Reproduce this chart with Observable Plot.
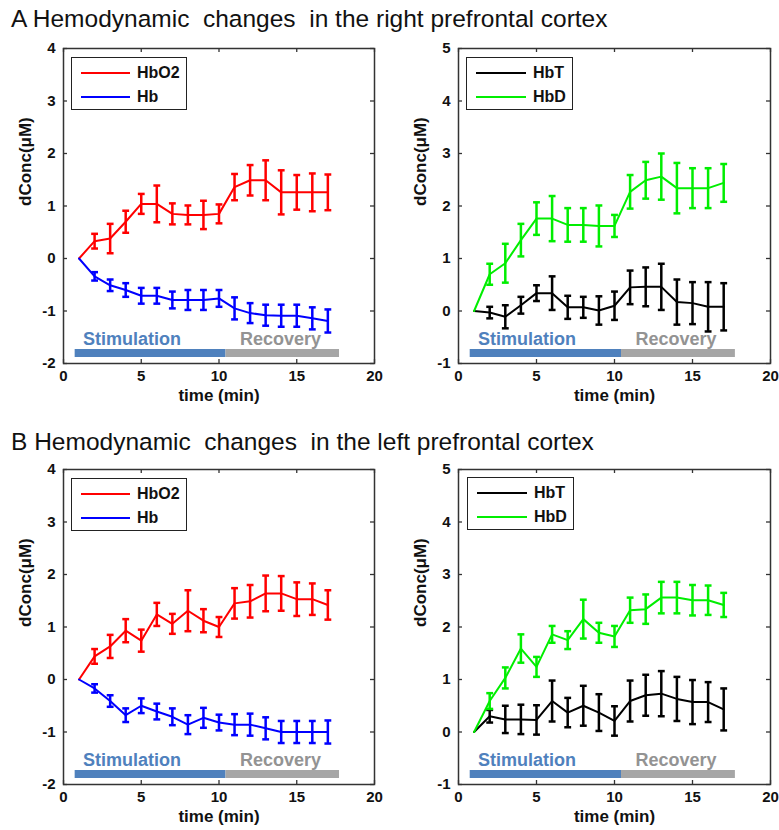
<!DOCTYPE html>
<html>
<head>
<meta charset="utf-8">
<script src="https://cdn.jsdelivr.net/npm/d3@7"></script>
<script src="https://cdn.jsdelivr.net/npm/@observablehq/plot@0.6"></script>
<style>
  body { margin: 0; background: #fff; }
  #root { position: relative; width: 779px; height: 830px; overflow: hidden; font-family: "Liberation Sans", Arial, sans-serif; color: #111; }
  .title { position: absolute; left: 11px; font-size: 24.5px; white-space: pre; line-height: 1; }
  .panel { position: absolute; }
  .legend { position: absolute; background: #fff; border: 1.5px solid #222; box-sizing: border-box; }
  .legend .sw { position: absolute; height: 2px; }
  .legend .lab { position: absolute; font-weight: bold; font-size: 16px; line-height: 1; }
</style>
</head>
<body>
<div id="root"></div>
<script>
// ---------- data ----------
const times = [1, 2, 3, 4, 5, 6, 7, 8, 9, 10, 11, 12, 13, 14, 15, 16, 17];
const xTicks = [0, 5, 10, 15, 20];
const yTicksLeft = [-2, -1, 0, 1, 2, 3, 4];
const yTicksRight = [-1, 0, 1, 2, 3, 4, 5];

// A: right prefrontal cortex
const rightHbO2    = [0, 0.33, 0.38, 0.70, 1.04, 1.04, 0.85, 0.83, 0.83, 0.85, 1.36, 1.49, 1.49, 1.26, 1.26, 1.26, 1.26];
const rightHbO2Err = [0, 0.14, 0.28, 0.21, 0.19, 0.35, 0.20, 0.18, 0.27, 0.18, 0.25, 0.29, 0.38, 0.42, 0.33, 0.36, 0.34];
const rightHb      = [0, -0.34, -0.51, -0.60, -0.71, -0.71, -0.79, -0.79, -0.79, -0.76, -0.95, -1.04, -1.08, -1.09, -1.09, -1.14, -1.19];
const rightHbErr   = [0, 0.08, 0.11, 0.13, 0.15, 0.15, 0.16, 0.19, 0.19, 0.16, 0.21, 0.19, 0.20, 0.21, 0.21, 0.21, 0.22];
const rightHbT     = [0, -0.03, -0.11, 0.11, 0.34, 0.34, 0.07, 0.07, 0.01, 0.10, 0.45, 0.46, 0.46, 0.17, 0.15, 0.08, 0.08];
const rightHbTErr  = [0, 0.11, 0.22, 0.16, 0.15, 0.32, 0.22, 0.20, 0.27, 0.27, 0.32, 0.37, 0.44, 0.43, 0.40, 0.47, 0.45];
const rightHbD     = [0, 0.70, 0.91, 1.35, 1.76, 1.76, 1.64, 1.64, 1.62, 1.62, 2.27, 2.49, 2.56, 2.34, 2.34, 2.34, 2.44];
const rightHbDErr  = [0, 0.20, 0.37, 0.31, 0.31, 0.43, 0.32, 0.32, 0.39, 0.21, 0.32, 0.35, 0.44, 0.48, 0.38, 0.38, 0.36];

// B: left prefrontal cortex
const leftHbO2     = [0, 0.44, 0.63, 0.93, 0.74, 1.24, 1.06, 1.31, 1.12, 1.00, 1.45, 1.49, 1.64, 1.64, 1.53, 1.53, 1.42];
const leftHbO2Err  = [0, 0.14, 0.22, 0.22, 0.21, 0.22, 0.19, 0.39, 0.22, 0.19, 0.29, 0.31, 0.34, 0.33, 0.32, 0.30, 0.28];
const leftHb       = [0, -0.17, -0.41, -0.68, -0.50, -0.61, -0.71, -0.86, -0.73, -0.82, -0.86, -0.86, -0.93, -1.00, -1.00, -1.00, -1.00];
const leftHbErr    = [0, 0.08, 0.11, 0.13, 0.14, 0.15, 0.16, 0.18, 0.19, 0.15, 0.20, 0.21, 0.21, 0.21, 0.21, 0.21, 0.22];
const leftHbT      = [0, 0.30, 0.24, 0.24, 0.23, 0.59, 0.37, 0.50, 0.37, 0.21, 0.59, 0.70, 0.73, 0.63, 0.57, 0.57, 0.43];
const leftHbTErr   = [0, 0.12, 0.26, 0.28, 0.28, 0.39, 0.28, 0.38, 0.35, 0.28, 0.39, 0.39, 0.43, 0.42, 0.42, 0.38, 0.40];
const leftHbD      = [0, 0.59, 1.03, 1.59, 1.24, 1.86, 1.75, 2.15, 1.89, 1.82, 2.32, 2.34, 2.56, 2.56, 2.51, 2.51, 2.42];
const leftHbDErr   = [0, 0.15, 0.20, 0.27, 0.19, 0.16, 0.17, 0.37, 0.19, 0.20, 0.24, 0.28, 0.30, 0.30, 0.29, 0.28, 0.23];

// phase annotation
const phaseLabels = ["Stimulation", "Recovery"];
const phaseStart  = [0.75, 10.45];
const phaseEnd    = [10.45, 17.75];
const phaseLabelX = [1.25, 11.35];
const phaseBarColors  = ["#4f81bd", "#a6a6a6"];
const phaseTextColors = ["#4f81bd", "#939393"];

const titles = [
  "A Hemodynamic  changes  in the right prefrontal cortex",
  "B Hemodynamic  changes  in the left prefrontal cortex"
];
const xLabel = "time (min)";
const yLabel = "dConc(\u03bcM)";

// ---------- layout ----------
const root = document.getElementById("root");
const FH = 315; // frame height

function addTitle(text, top) {
  const d = document.createElement("div");
  d.className = "title";
  d.style.top = top + "px";
  d.textContent = text;
  root.appendChild(d);
}

function panel({left, top, mLeft, frameW, mRight, yDomain, yTicks, names, colors, values, errors, legendBox}) {
  const data = [];
  names.forEach((n, k) => times.forEach((t, i) => data.push({t, v: values[k][i], e: errors[k][i], key: n})));
  const phases = phaseLabels.map((label, i) => ({label, x1: phaseStart[i], x2: phaseEnd[i], lx: phaseLabelX[i], bc: phaseBarColors[i], tc: phaseTextColors[i]}));
  const yLow = yDomain[0];
  const barY = yLow + 0.2;
  const txtY = yLow + 0.36;
  const capW = 0.22;
  const withErr = data.filter(d => d.e > 0);
  const fmt = d => String(d);
  const chart = Plot.plot({
    width: mLeft + frameW + mRight,
    height: 12 + FH + 45,
    marginTop: 12,
    marginBottom: 45,
    marginLeft: mLeft,
    marginRight: mRight,
    style: {fontFamily: "'Liberation Sans', Arial, sans-serif", fontSize: "15px", fontWeight: "bold", color: "#111", background: "transparent", overflow: "visible"},
    x: {domain: [0, 20]},
    y: {domain: yDomain},
    color: {domain: names, range: colors},
    marks: [
      // phase bars and labels
      Plot.ruleY(phases, {y: () => barY, x1: "x1", x2: "x2", stroke: "bc", strokeWidth: 8}),
      Plot.text(phases, {x: "lx", y: () => txtY, text: "label", fill: "tc", textAnchor: "start", lineAnchor: "bottom", fontSize: 18, fontWeight: "bold"}),
      // error bars
      Plot.ruleX(withErr, {x: "t", y1: d => d.v - d.e, y2: d => d.v + d.e, stroke: "key", strokeWidth: 2.5}),
      Plot.link(withErr, {x1: d => d.t - capW, x2: d => d.t + capW, y1: d => d.v + d.e, y2: d => d.v + d.e, stroke: "key", strokeWidth: 2.5}),
      Plot.link(withErr, {x1: d => d.t - capW, x2: d => d.t + capW, y1: d => d.v - d.e, y2: d => d.v - d.e, stroke: "key", strokeWidth: 2.5}),
      // lines
      Plot.line(data, {x: "t", y: "v", z: "key", stroke: "key", strokeWidth: 2}),
      // inward ticks on all sides
      Plot.ruleX(xTicks, {x: d => d, insetTop: FH - 4, stroke: "#333", strokeWidth: 1.3}),
      Plot.ruleX(xTicks, {x: d => d, insetBottom: FH - 4, stroke: "#333", strokeWidth: 1.3}),
      Plot.ruleY(yTicks, {y: d => d, insetRight: frameW - 4, stroke: "#333", strokeWidth: 1.3}),
      Plot.ruleY(yTicks, {y: d => d, insetLeft: frameW - 4, stroke: "#333", strokeWidth: 1.3}),
      // axes labels
      Plot.axisX(xTicks, {anchor: "bottom", tickSize: 0, tickPadding: 7, tickFormat: fmt, label: null}),
      Plot.axisY(yTicks, {anchor: "left", tickSize: 0, tickPadding: 8, tickFormat: fmt, label: null}),
      Plot.text([xLabel], {frameAnchor: "bottom", dy: 37, fontSize: 17, fontWeight: "bold"}),
      Plot.text([yLabel], {frameAnchor: "left", dx: -38, rotate: -90, fontSize: 17, fontWeight: "bold"}),
      Plot.frame({stroke: "#333", strokeWidth: 1.5})
    ]
  });
  chart.classList.add("panel");
  chart.style.left = left + "px";
  chart.style.top = top + "px";
  root.appendChild(chart);

  // legend
  const lg = document.createElement("div");
  lg.className = "legend";
  lg.style.left = legendBox.x + "px";
  lg.style.top = legendBox.y + "px";
  lg.style.width = legendBox.w + "px";
  lg.style.height = legendBox.h + "px";
  names.forEach((n, k) => {
    const sw = document.createElement("div");
    sw.className = "sw";
    sw.style.left = legendBox.swX + "px";
    sw.style.width = legendBox.swW + "px";
    sw.style.top = (14 + k * 24) + "px";
    sw.style.background = colors[k];
    lg.appendChild(sw);
    const lab = document.createElement("div");
    lab.className = "lab";
    lab.style.left = legendBox.txX + "px";
    lab.style.top = (7 + k * 24) + "px";
    lab.textContent = n;
    lg.appendChild(lab);
  });
  root.appendChild(lg);
}

addTitle(titles[0], 7);
addTitle(titles[1], 430);

const leftGeom  = {left: 0,   mLeft: 63, frameW: 311, mRight: 16, yDomain: [-2, 4], yTicks: yTicksLeft};
const rightGeom = {left: 390, mLeft: 68, frameW: 312, mRight: 9,  yDomain: [-1, 5], yTicks: yTicksRight};
const legL = {w: 116, h: 53, swX: 9, swW: 49, txX: 65};
const legR = {w: 107, h: 53, swX: 9, swW: 50, txX: 66};

panel({...leftGeom, top: 36, names: ["HbO2", "Hb"], colors: ["#ff0000", "#0000ff"],
  values: [rightHbO2, rightHb], errors: [rightHbO2Err, rightHbErr], legendBox: {...legL, x: 71, y: 57}});
panel({...rightGeom, top: 36, names: ["HbT", "HbD"], colors: ["#000000", "#00ee00"],
  values: [rightHbT, rightHbD], errors: [rightHbTErr, rightHbDErr], legendBox: {...legR, x: 466, y: 57}});
panel({...leftGeom, top: 457, names: ["HbO2", "Hb"], colors: ["#ff0000", "#0000ff"],
  values: [leftHbO2, leftHb], errors: [leftHbO2Err, leftHbErr], legendBox: {...legL, x: 71, y: 478}});
panel({...rightGeom, top: 457, names: ["HbT", "HbD"], colors: ["#000000", "#00ee00"],
  values: [leftHbT, leftHbD], errors: [leftHbTErr, leftHbDErr], legendBox: {...legR, x: 467, y: 477}});
</script>
</body>
</html>
